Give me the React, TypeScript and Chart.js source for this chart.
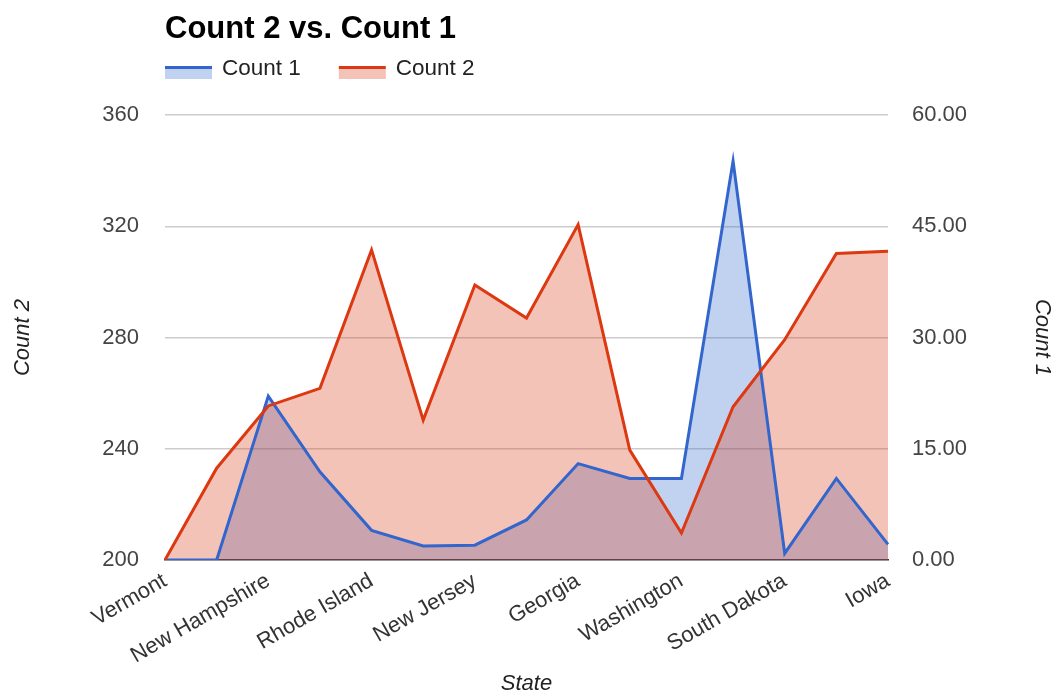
import React, { useEffect, useRef } from "react";
import { Chart, registerables } from "chart.js";

Chart.register(...registerables);

const FF = "'Liberation Sans', Arial, sans-serif";

const chartTitle = "Count 2 vs. Count 1";
const states = [
  "Vermont", "Maine", "New Hampshire", "Massachusetts", "Rhode Island",
  "Connecticut", "New Jersey", "Delaware", "Georgia", "Oregon",
  "Washington", "Montana", "South Dakota", "Nebraska", "Iowa",
];
const count1 = [0, 0, 22.1, 11.9, 4.0, 1.9, 2.0, 5.4, 13.0, 11.0, 11.0, 53.8, 0.9, 11.0, 2.1];
const count2 = [200, 233, 255.4, 261.7, 311.5, 250.3, 298.9, 287, 320.6, 239.5, 209.7, 255.1, 279.2, 310.2, 311];
const leftTicks = [200, 240, 280, 320, 360];
const rightTicks = [0, 15, 30, 45, 60];

const BLUE = "#3366cc";
const RED = "#dc3912";
const BLUE_FILL = "rgba(51,102,204,0.3)";
const RED_FILL = "rgba(220,57,18,0.3)";

const legendItems = [
  { label: "Count 1", line: BLUE, fill: BLUE_FILL },
  { label: "Count 2", line: RED, fill: RED_FILL },
];

const headerPlugin = {
  id: "header",
  afterDraw(chart: any) {
    const ctx = chart.ctx as CanvasRenderingContext2D;
    const left = chart.chartArea.left;
    ctx.save();
    ctx.textAlign = "left";
    ctx.textBaseline = "alphabetic";
    ctx.fillStyle = "#000";
    ctx.font = `bold 31px ${FF}`;
    ctx.fillText(chartTitle, left, 38);

    ctx.font = `22.5px ${FF}`;
    let x = left;
    legendItems.forEach((it) => {
      ctx.fillStyle = it.fill;
      ctx.fillRect(x, 69, 47, 10);
      ctx.fillStyle = it.line;
      ctx.fillRect(x, 66, 47, 3);
      ctx.fillStyle = "#222";
      ctx.fillText(it.label, x + 57, 75);
      x += 57 + ctx.measureText(it.label).width + 38;
    });
    ctx.restore();
  },
};

export default function App() {
  const ref = useRef<HTMLCanvasElement | null>(null);

  useEffect(() => {
    document.body.style.margin = "0";
    const canvas = ref.current!;
    const chart = new Chart(canvas, {
      type: "line",
      data: {
        labels: states,
        datasets: [
          {
            label: "Count 1",
            data: count1,
            yAxisID: "y1",
            borderColor: BLUE,
            backgroundColor: BLUE_FILL,
            borderWidth: 3,
            pointRadius: 0,
            fill: "start",
            tension: 0,
            order: 1,
          },
          {
            label: "Count 2",
            data: count2,
            yAxisID: "y",
            borderColor: RED,
            backgroundColor: RED_FILL,
            borderWidth: 3,
            pointRadius: 0,
            fill: "start",
            tension: 0,
            order: 0,
          },
        ],
      },
      options: {
        responsive: false,
        animation: false,
        devicePixelRatio: 1,
        layout: { padding: { top: 115, left: 0, right: 0, bottom: 0 } },
        plugins: {
          legend: { display: false },
          title: { display: false },
          tooltip: { enabled: false },
          filler: { drawTime: "beforeDatasetsDraw" },
        } as any,
        scales: {
          x: {
            offset: false,
            grid: { display: false, drawTicks: false },
            border: { display: true, color: "#333", width: 1.5 },
            ticks: {
              autoSkip: false,
              minRotation: 30,
              maxRotation: 30,
              padding: 8,
              color: "#333",
              font: { family: FF, size: 22 },
              callback: (_v: any, i: number) => (i % 2 === 0 ? states[i] : ""),
            },
            title: {
              display: true,
              text: "State",
              color: "#222",
              font: { family: FF, size: 22, style: "italic", lineHeight: 1 },
              padding: { top: 0, bottom: 0 },
            },
            afterFit: (s: any) => {
              s.height = 135;
            },
          },
          y: {
            position: "left",
            min: leftTicks[0],
            max: leftTicks[leftTicks.length - 1],
            afterBuildTicks: (s: any) => {
              s.ticks = leftTicks.map((v) => ({ value: v }));
            },
            grid: {
              drawTicks: false,
              color: (c: any) => (c.tick && c.tick.value === leftTicks[0] ? "rgba(0,0,0,0)" : "#cccccc"),
              lineWidth: 1.5,
            },
            border: { display: false },
            ticks: {
              padding: 26,
              color: "#444",
              font: { family: FF, size: 22 },
              callback: (v: any) => String(v),
            },
            title: {
              display: true,
              text: "Count 2",
              color: "#222",
              font: { family: FF, size: 22, style: "italic", lineHeight: 1 },
              padding: { top: 12, bottom: 0 },
            },
            afterFit: (s: any) => {
              s.width = 165;
            },
          },
          y1: {
            position: "right",
            min: rightTicks[0],
            max: rightTicks[rightTicks.length - 1],
            afterBuildTicks: (s: any) => {
              s.ticks = rightTicks.map((v) => ({ value: v }));
            },
            grid: { display: false, drawTicks: false },
            border: { display: false },
            ticks: {
              padding: 24,
              color: "#444",
              font: { family: FF, size: 22 },
              callback: (v: any) => Number(v).toFixed(2),
            },
            title: {
              display: true,
              text: "Count 1",
              color: "#222",
              font: { family: FF, size: 22, style: "italic", lineHeight: 1 },
              padding: { top: 0, bottom: 0 },
            },
            afterFit: (s: any) => {
              s.width = 165;
            },
          },
        },
      } as any,
      plugins: [headerPlugin],
    });
    return () => chart.destroy();
  }, []);

  return (
    <div style={{ width: 1053, height: 695, overflow: "hidden", background: "#fff" }}>
      <canvas ref={ref} width={1053} height={695} style={{ display: "block" }} />
    </div>
  );
}
